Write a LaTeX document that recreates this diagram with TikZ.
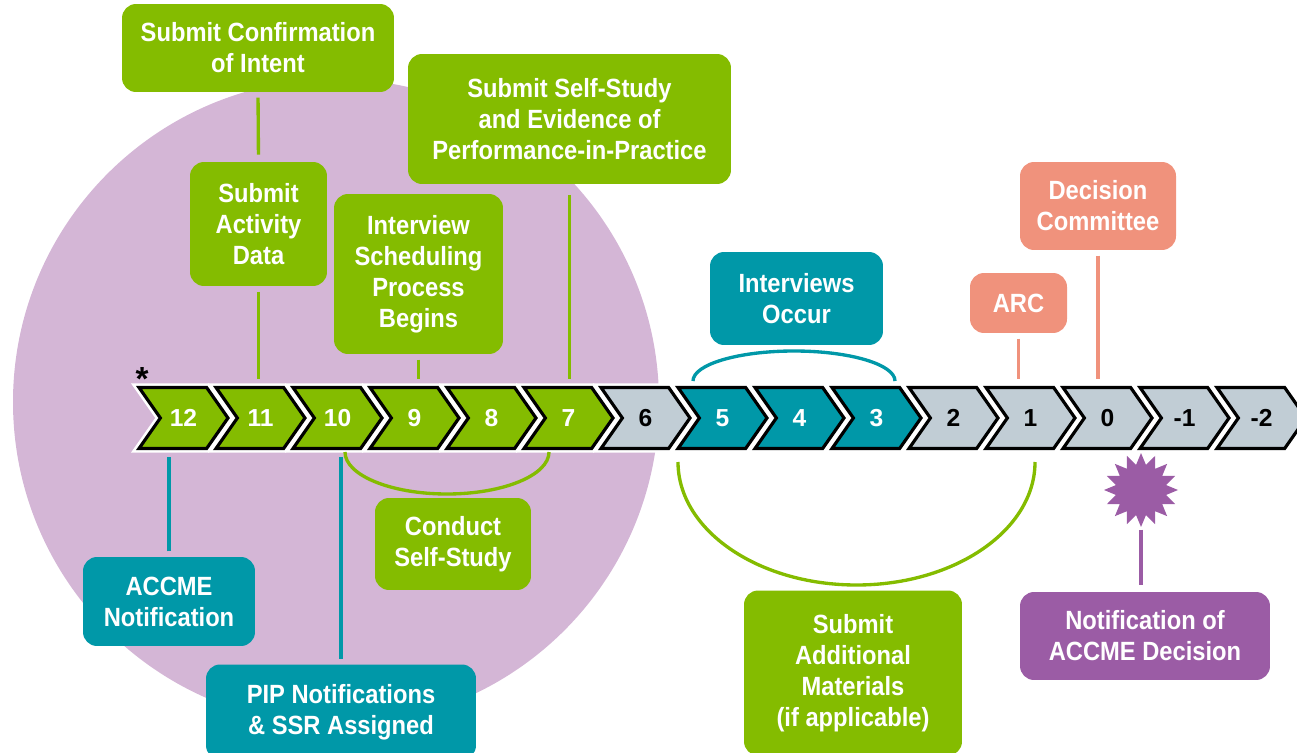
\documentclass[tikz,border=0pt]{standalone}
\usepackage{fontspec}
\setmainfont{Liberation Sans}
\newfontfamily\boxfont{Liberation Sans}[FakeStretch=0.9]
\usetikzlibrary{shapes.symbols,shapes.geometric}

\definecolor{grn}{RGB}{132,188,0}
\definecolor{tl}{RGB}{0,152,168}
\definecolor{gry}{RGB}{193,205,213}
\definecolor{slm}{RGB}{240,146,124}
\definecolor{prp}{RGB}{155,92,165}
\definecolor{lav}{RGB}{212,182,214}

\tikzstyle{chev}=[signal, signal from=west, signal to=east, signal pointer angle=110,
  minimum width=1.78cm, minimum height=1.22cm, inner sep=0pt,
  draw=black, line width=1.8pt, preaction={draw=white,line width=4.8pt},
  font=\fontsize{14}{16}\selectfont\bfseries]
\tikzstyle{gchev}=[chev, fill=grn, text=white]
\tikzstyle{tchev}=[chev, fill=tl, text=white]
\tikzstyle{schev}=[chev, fill=gry, text=black]
\tikzstyle{box}=[rounded corners=0.28cm, align=center, text=white, inner sep=0pt,
  font=\boxfont\bfseries\fontsize{15}{17.6}\selectfont]
\tikzstyle{link}=[line width=1.9pt, shorten <=3pt, shorten >=4pt]
\tikzstyle{brace}=[line width=1.9pt]

\begin{document}
\begin{tikzpicture}[x=0.02cm,y=0.02cm]
        \useasboundingbox (0,0) rectangle (1297,-753);
        % background circle
        \fill[lav] (336,-402) circle[radius=323];

        % months
        \node[gchev] (c12) at (183.5,-418) {12};
        \node[gchev] (c11) at (260.5,-418) {11};
        \node[gchev] (c10) at (337.5,-418) {10};
        \node[gchev] (c9) at (414.5,-418) {9};
        \node[gchev] (c8) at (491.5,-418) {8};
        \node[gchev] (c7) at (568.5,-418) {7};
        \node[schev] (c6) at (645.5,-418) {6};
        \node[tchev] (c5) at (722.5,-418) {5};
        \node[tchev] (c4) at (799.5,-418) {4};
        \node[tchev] (c3) at (876.5,-418) {3};
        \node[schev] (c2) at (953.5,-418) {2};
        \node[schev] (c1) at (1030.5,-418) {1};
        \node[schev] (c0) at (1107.5,-418) {0};
        \node[schev] (cm1) at (1184.5,-418) {-1};
        \node[schev] (cm2) at (1261.5,-418) {-2};
        \node[font=\fontsize{19}{20}\selectfont\bfseries] (ast) at (142,-379) {*};

        % steps above
        \node[box, fill=grn, minimum width=5.44cm, minimum height=1.76cm] (conf) at (258,-48)
            {Submit Confirmation\\of Intent};
        \node[box, fill=grn, minimum width=2.74cm, minimum height=2.48cm] (act) at (258.5,-224)
            {Submit\\Activity\\Data};
        \node[box, fill=grn, minimum width=3.38cm, minimum height=3.2cm] (sched) at (418.5,-274)
            {Interview\\Scheduling\\Process\\Begins};
        \node[box, fill=grn, minimum width=6.46cm, minimum height=2.6cm] (ssr) at (569.5,-119)
            {Submit Self-Study\\and Evidence of\\Performance-in-Practice};
        \node[box, fill=tl, minimum width=3.46cm, minimum height=1.86cm] (intv) at (796.5,-298.5)
            {Interviews\\Occur};
        \node[box, fill=slm, minimum width=1.94cm, minimum height=1.2cm] (arc) at (1018.5,-303)
            {ARC};
        \node[box, fill=slm, minimum width=3.12cm, minimum height=1.76cm] (dec) at (1098,-206)
            {Decision\\Committee};

        % steps below
        \node[box, fill=tl, minimum width=3.44cm, minimum height=1.78cm] (accme) at (169,-601.5)
            {ACCME\\Notification};
        \node[box, fill=tl, minimum width=5.4cm, minimum height=1.9cm] (pip) at (341,-712)
            {PIP Notifications\\\& SSR Assigned};
        \node[box, fill=grn, minimum width=3.12cm, minimum height=1.84cm] (cond) at (453,-544)
            {Conduct\\Self-Study};
        \node[box, fill=grn, minimum width=4.36cm, minimum height=3.3cm] (add) at (853,-673)
            {Submit\\Additional\\Materials\\(if applicable)};
        \node[box, fill=prp, minimum width=5cm, minimum height=1.76cm] (notif) at (1145,-636)
            {Notification of\\ACCME Decision};
        \node[star, star points=16, star point ratio=1.45, fill=prp, minimum size=1.48cm,
            inner sep=0pt] (burst) at (1141,-490) {};

        % links
        \draw[link, grn] (conf.south) -- (act.north);
        \draw[link, grn] (act.south) -- (act.south |- c11.north);
        \draw[link, grn] (sched.south) -- (sched.south |- c9.north);
        \draw[link, grn, shorten <=6pt] (ssr.south) -- (ssr.south |- c7.north);
        \draw[link, slm] (arc.south) -- (arc.south |- c1.north);
        \draw[link, slm] (dec.south) -- (dec.south |- c0.north);
        \draw[link, tl] (accme.north) -- (accme.north |- c12.south);
        \draw[link, tl] (pip.north) -- (pip.north |- c10.south);
        \draw[link, prp, shorten <=1pt] (burst.south) -- (burst.south |- notif.north);

        % spans
        \draw[brace, tl] (693,-381) arc[start angle=180, end angle=0, x radius=101, y radius=30];
        \draw[brace, grn] (345,-452) arc[start angle=180, end angle=360, x radius=102, y radius=42];
        \draw[brace, grn] (678,-462) arc[start angle=180, end angle=360, x radius=178.5, y radius=123];
    \end{tikzpicture}
\end{document}
